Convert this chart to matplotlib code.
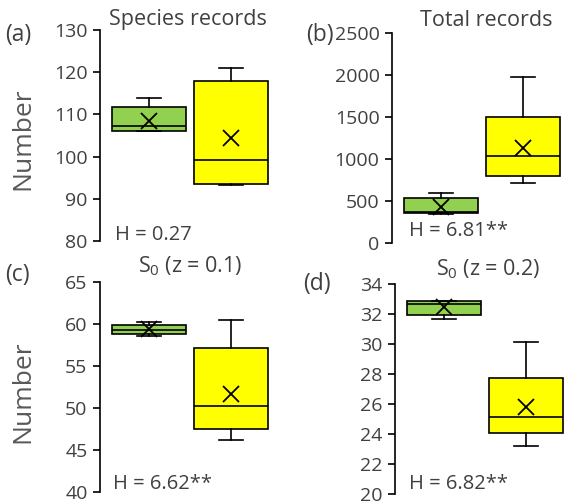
import matplotlib.pyplot as plt

# Box statistics: [low whisker, q1, median, q3, high whisker], mean
groups = ["Green", "Yellow"]

a_green = [106.0, 106.1, 107.2, 111.8, 113.9]
a_yellow = [93.3, 93.6, 99.1, 117.9, 121.0]
a_means = [108.4, 104.5]

b_green = [350, 357, 375, 535, 595]
b_yellow = [714, 800, 1036, 1500, 1976]
b_means = [430, 1131]

c_green = [58.55, 58.8, 59.3, 59.85, 60.2]
c_yellow = [46.2, 47.5, 50.2, 57.1, 60.5]
c_means = [59.4, 51.7]

d_green = [31.67, 31.93, 32.67, 32.9, 32.9]
d_yellow = [23.18, 24.1, 25.16, 27.76, 30.16]
d_means = [32.45, 25.8]

titles = ["Species records", "Total records", "S$_0$ (z = 0.1)", "S$_0$ (z = 0.2)"]
letters = ["(a)", "(b)", "(c)", "(d)"]
h_labels = ["H = 0.27", "H = 6.81**", "H = 6.62**", "H = 6.82**"]
ylims = [(80, 130), (0, 2500), (40, 65), (20, 34)]
yticks = [range(80, 131, 10), range(0, 2501, 500), range(40, 66, 5), range(20, 35, 2)]

colors = ["#92D050", "#FFFF00"]
grey = "#595959"
txt = "#404040"

plt.rcParams["font.family"] = ["Open Sans", "DejaVu Sans"]
plt.rcParams["mathtext.fontset"] = "custom"
plt.rcParams["mathtext.rm"] = "Open Sans"

W, H = 564, 504
fig = plt.figure(figsize=(W / 100, H / 100), dpi=100)


def fx(x):
    return x / W


def fy(y):
    return 1 - y / H


# axes boxes in pixels: left, top, bottom
boxes = [(100, 30, 241), (392, 33, 243), (100, 282, 492), (395, 284, 494)]
data = [(a_green, a_yellow, a_means), (b_green, b_yellow, b_means),
        (c_green, c_yellow, c_means), (d_green, d_yellow, d_means)]

axs = []
for (left, top, bottom), (g, y, m), lim, tk in zip(boxes, data, ylims, yticks):
    ax = fig.add_axes([fx(left), fy(bottom), 172 / W, (bottom - top) / H])
    stats = []
    for vals, mean, name in zip([g, y], m, groups):
        stats.append(dict(whislo=vals[0], q1=vals[1], med=vals[2], q3=vals[3],
                          whishi=vals[4], mean=mean, label=name, fliers=[]))
    bp = ax.bxp(stats, positions=[1, 2], widths=0.9, patch_artist=True,
                showmeans=True, showfliers=False,
                boxprops=dict(edgecolor="black", linewidth=1.2),
                medianprops=dict(color="black", linewidth=1.2),
                whiskerprops=dict(color="black", linewidth=1.2),
                capprops=dict(color="black", linewidth=1.2),
                capwidths=0.3,
                meanprops=dict(marker="x", markersize=12, markeredgecolor="black",
                               markeredgewidth=1.3))
    for patch, c in zip(bp["boxes"], colors):
        patch.set_facecolor(c)
    ax.set_xlim(0.4, 2.5)
    ax.set_ylim(*lim)
    ax.set_yticks(list(tk))
    ax.set_xticks([])
    for s in ["top", "right", "bottom"]:
        ax.spines[s].set_visible(False)
    ax.spines["left"].set_linewidth(1.2)
    ax.tick_params(axis="y", length=5, width=1.2, labelsize=14, labelcolor=txt, pad=4)
    ax.patch.set_alpha(0)
    axs.append(ax)

# panel texts (pixel positions)
fig.text(fx(188), fy(20), titles[0], fontsize=15.5, color=txt, ha="center", va="center")
fig.text(fx(486), fy(20), titles[1], fontsize=15.5, color=txt, ha="center", va="center")
fig.text(fx(190), fy(266), titles[2], fontsize=15.5, color=txt, ha="center", va="center")
fig.text(fx(488), fy(269), titles[3], fontsize=15.5, color=txt, ha="center", va="center")

fig.text(fx(5), fy(35), letters[0], fontsize=16.5, color=txt, va="center")
fig.text(fx(306), fy(35), letters[1], fontsize=16.5, color=txt, va="center")
fig.text(fx(5), fy(275), letters[2], fontsize=16.5, color=txt, va="center")
fig.text(fx(303), fy(284), letters[3], fontsize=16.5, color=txt, va="center")

fig.text(fx(115), fy(235), h_labels[0], fontsize=14.5, color=txt, va="center")
fig.text(fx(409), fy(231), h_labels[1], fontsize=14.5, color=txt, va="center")
fig.text(fx(113), fy(484), h_labels[2], fontsize=14.5, color=txt, va="center")
fig.text(fx(409), fy(484), h_labels[3], fontsize=14.5, color=txt, va="center")

fig.text(fx(23), fy(139), "Number", fontsize=19, color=grey, rotation=90, ha="center", va="center")
fig.text(fx(23), fy(392), "Number", fontsize=19, color=grey, rotation=90, ha="center", va="center")

fig.savefig("out.png", dpi=100)
